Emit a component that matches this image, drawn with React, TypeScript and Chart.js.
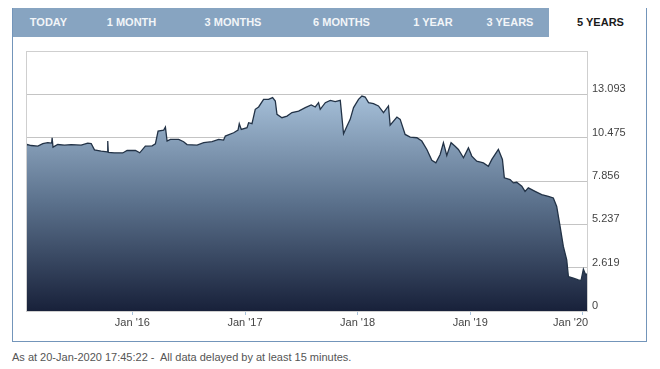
import React, { useEffect, useRef } from "react";
import { Chart, registerables } from "chart.js";

Chart.register(...registerables);

const tabLabels = ["TODAY", "1 MONTH", "3 MONTHS", "6 MONTHS", "1 YEAR", "3 YEARS", "5 YEARS"];
const activeTab = "5 YEARS";

const yTickValues = [0, 2.619, 5.237, 7.856, 10.475, 13.093];
const yTickLabels = ["0", "2.619", "5.237", "7.856", "10.475", "13.093"];
const yMax = 15.712;

const xTickValues = [2016, 2017, 2018, 2019, 2020];
const xTickLabels = ["Jan '16", "Jan '17", "Jan '18", "Jan '19", "Jan '20"];
const xMin = 2015.055;
const xMax = 2020.046;

// dates as decimal years
const dates = [
  2015.055, 2015.066, 2015.101, 2015.160, 2015.204, 2015.248, 2015.283, 2015.287, 2015.295, 2015.337,
  2015.397, 2015.456, 2015.545, 2015.603, 2015.634, 2015.663, 2015.722, 2015.776, 2015.781, 2015.786,
  2015.840, 2015.914, 2015.953, 2016.027, 2016.065, 2016.115, 2016.175, 2016.204, 2016.228, 2016.278,
  2016.293, 2016.308, 2016.337, 2016.411, 2016.455, 2016.485, 2016.574, 2016.633, 2016.707, 2016.766,
  2016.810, 2016.825, 2016.899, 2016.938, 2016.949, 2016.967, 2017.018, 2017.032, 2017.062, 2017.091,
  2017.121, 2017.165, 2017.209, 2017.245, 2017.269, 2017.284, 2017.328, 2017.373, 2017.417, 2017.476,
  2017.535, 2017.588, 2017.624, 2017.653, 2017.668, 2017.713, 2017.757, 2017.801, 2017.846, 2017.875,
  2017.905, 2017.934, 2017.964, 2018.008, 2018.038, 2018.067, 2018.097, 2018.141, 2018.185, 2018.230,
  2018.274, 2018.289, 2018.349, 2018.378, 2018.422, 2018.467, 2018.526, 2018.570, 2018.615, 2018.659,
  2018.695, 2018.733, 2018.762, 2018.792, 2018.830, 2018.866, 2018.895, 2018.940, 2018.984, 2019.014,
  2019.058, 2019.117, 2019.161, 2019.192, 2019.250, 2019.286, 2019.303, 2019.354, 2019.383, 2019.413,
  2019.458, 2019.487, 2019.516, 2019.576, 2019.635, 2019.694, 2019.738, 2019.768, 2019.798, 2019.827,
  2019.857, 2019.872, 2019.916, 2019.960, 2019.984, 2020.005, 2020.026, 2020.046,
];

const prices = [
  10.00, 10.06, 10.00, 9.96, 10.11, 10.17, 10.15, 10.47, 9.90, 10.06,
  10.02, 10.06, 10.02, 10.14, 10.12, 9.74, 9.66, 9.62, 10.27, 9.58,
  9.56, 9.55, 9.70, 9.70, 9.56, 9.96, 9.98, 10.10, 10.87, 10.93,
  11.11, 10.27, 10.37, 10.37, 10.23, 10.06, 10.02, 10.17, 10.23, 10.37,
  10.33, 10.57, 10.77, 10.93, 11.32, 10.97, 11.08, 11.38, 11.32, 12.19,
  12.33, 12.79, 12.79, 12.90, 12.69, 11.88, 11.68, 11.78, 11.99, 12.08,
  12.29, 12.45, 12.33, 12.59, 12.19, 12.59, 12.73, 12.65, 12.73, 10.71,
  11.17, 11.58, 12.29, 12.79, 12.99, 12.93, 12.59, 12.53, 12.39, 11.99,
  12.39, 11.23, 11.72, 11.58, 10.67, 10.51, 10.47, 10.27, 9.76, 9.11,
  8.95, 9.46, 10.17, 9.40, 10.17, 9.96, 9.76, 9.26, 9.86, 9.36,
  9.05, 8.95, 8.75, 9.16, 9.76, 9.16, 8.05, 7.94, 7.74, 7.78,
  7.54, 7.23, 7.44, 7.23, 7.03, 6.93, 6.83, 6.32, 5.11, 3.90,
  3.09, 2.08, 1.98, 1.88, 1.84, 2.53, 2.18, 2.29,
];

const footerText = "As at 20-Jan-2020 17:45:22 -  All data delayed by at least 15 minutes.";

const FONT = "'Liberation Sans', Arial, sans-serif";

export default function App() {
  const canvasRef = useRef<HTMLCanvasElement | null>(null);

  useEffect(() => {
    if (!canvasRef.current) return;
    const boxPlugin = {
      id: "plotBox",
      afterDatasetsDraw(chart: any) {
        const { ctx, chartArea } = chart;
        ctx.save();
        ctx.strokeStyle = "#cfcfcf";
        ctx.lineWidth = 1;
        ctx.strokeRect(chartArea.left + 0.5, chartArea.top + 0.5, chartArea.right - chartArea.left - 1, chartArea.bottom - chartArea.top);
        ctx.restore();
      },
    };
    const chart = new Chart(canvasRef.current, {
      type: "line",
      data: {
        datasets: [
          {
            data: dates.map((d, i) => ({ x: d, y: prices[i] })),
            borderColor: "#223246",
            borderWidth: 1.3,
            pointRadius: 0,
            tension: 0,
            fill: "start",
            backgroundColor: (c: any) => {
              const ch = c.chart;
              const area = ch.chartArea;
              if (!area) return "#5a708b";
              const top = ch.scales.y.getPixelForValue(13.093);
              const g = ch.ctx.createLinearGradient(0, top, 0, area.bottom);
              g.addColorStop(0, "#a6c0d9");
              g.addColorStop(0.5, "#5b718c");
              g.addColorStop(1, "#18213a");
              return g;
            },
          },
        ],
      },
      options: {
        animation: false,
        responsive: false,
        maintainAspectRatio: false,
        layout: { padding: { left: 13, top: 13, right: 0, bottom: 0 } },
        plugins: { legend: { display: false }, tooltip: { enabled: false } },
        scales: {
          x: {
            type: "linear",
            min: xMin,
            max: xMax,
            afterBuildTicks: (axis: any) => {
              axis.ticks = xTickValues.map((v) => ({ value: v }));
            },
            afterFit: (axis: any) => {
              axis.height = 29;
            },
            ticks: {
              autoSkip: false,
              maxRotation: 0,
              padding: 1,
              color: "#444",
              font: { family: FONT, size: 11 },
              // last label is kept inside the plot edge, as in the original
              callback: (_v: any, i: number) =>
                i === xTickLabels.length - 1 ? xTickLabels[i] + "        " : xTickLabels[i],
            },
            grid: { drawOnChartArea: false, drawTicks: true, tickLength: 4, color: "#a9c4de" },
            border: { display: false },
          },
          y: {
            position: "right",
            min: 0,
            max: yMax,
            afterBuildTicks: (axis: any) => {
              axis.ticks = yTickValues.map((v) => ({ value: v }));
            },
            afterFit: (axis: any) => {
              axis.width = 57;
            },
            ticks: {
              autoSkip: false,
              padding: 4,
              labelOffset: -5,
              color: "#444",
              font: { family: FONT, size: 11 },
              callback: (_v: any, i: number) => yTickLabels[i],
            },
            grid: { drawTicks: false, color: "#c4c4c4" },
            border: { display: false },
          },
        },
      },
      plugins: [boxPlugin],
    } as any);
    return () => chart.destroy();
  }, []);

  const tabCenters = [48.5, 131.5, 233, 341.5, 433, 510, 600.5];

  return (
    <div style={{ position: "fixed", left: 0, top: 0, width: 660, height: 369, background: "#fff", fontFamily: FONT }}>
      <div
        style={{
          position: "absolute",
          left: 12,
          top: 8,
          width: 635,
          height: 334,
          boxSizing: "border-box",
          border: "1px solid #7395ba",
        }}
      />
      <div style={{ position: "absolute", left: 13, top: 8, width: 633, height: 29, background: "#87a4c1" }} />
      <div style={{ position: "absolute", left: 549, top: 8, width: 97, height: 30, background: "#fff" }} />
      {tabLabels.map((t, i) => (
        <div
          key={t}
          style={{
            position: "absolute",
            left: tabCenters[i] - 50,
            width: 100,
            top: 16,
            textAlign: "center",
            fontSize: 11,
            fontWeight: "bold",
            lineHeight: "13px",
            color: t === activeTab ? "#1a1a1a" : "#f2f5f8",
          }}
        >
          {t}
        </div>
      ))}
      <canvas ref={canvasRef} width={632} height={302} style={{ position: "absolute", left: 13, top: 38, width: 632, height: 302 }} />
      <div style={{ position: "absolute", left: 12, top: 351, fontSize: 11, color: "#555", whiteSpace: "pre", lineHeight: "13px" }}>
        {footerText}
      </div>
    </div>
  );
}
